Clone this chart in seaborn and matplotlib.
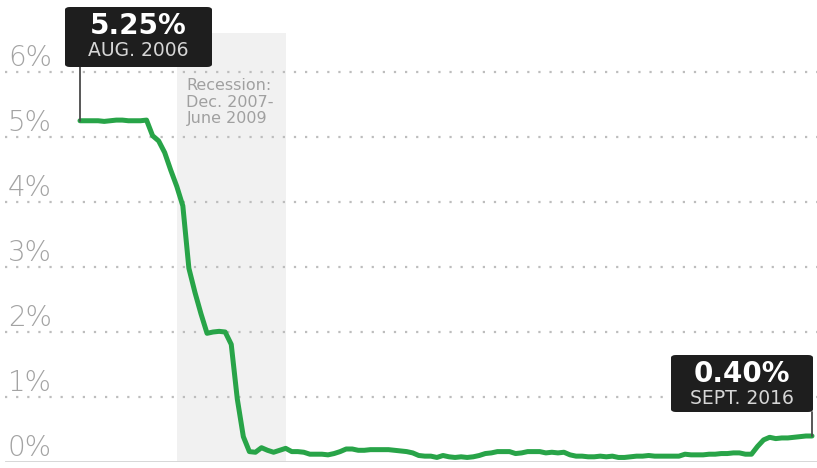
import matplotlib
matplotlib.use("Agg")
import matplotlib.pyplot as plt
import seaborn as sns
import pandas as pd
from matplotlib.patches import FancyBboxPatch

# Effective federal funds rate, monthly, Aug. 2006 - Sept. 2016 (percent)
months = pd.period_range("2006-08", "2016-09", freq="M")
rate = [
    5.25, 5.25, 5.25, 5.25, 5.24,
    5.25, 5.26, 5.26, 5.25, 5.25, 5.25, 5.26, 5.02, 4.94, 4.76, 4.49, 4.24,
    3.94, 2.98, 2.61, 2.28, 1.98, 2.00, 2.01, 2.00, 1.81, 0.97, 0.39, 0.16,
    0.15, 0.22, 0.18, 0.15, 0.18, 0.21, 0.16, 0.16, 0.15, 0.12, 0.12, 0.12,
    0.11, 0.13, 0.16, 0.20, 0.20, 0.18, 0.18, 0.19, 0.19, 0.19, 0.19, 0.18,
    0.17, 0.16, 0.14, 0.10, 0.09, 0.09, 0.07, 0.10, 0.08, 0.07, 0.08, 0.07,
    0.08, 0.10, 0.13, 0.14, 0.16, 0.16, 0.16, 0.13, 0.14, 0.16, 0.16, 0.16,
    0.14, 0.15, 0.14, 0.15, 0.11, 0.09, 0.09, 0.08, 0.08, 0.09, 0.08, 0.09,
    0.07, 0.07, 0.08, 0.09, 0.09, 0.10, 0.09, 0.09, 0.09, 0.09, 0.09, 0.12,
    0.11, 0.11, 0.11, 0.12, 0.12, 0.13, 0.13, 0.14, 0.14, 0.12, 0.12, 0.24,
    0.34, 0.38, 0.36, 0.37, 0.37, 0.38, 0.39, 0.40, 0.40,
]
y_ticks = [0, 1, 2, 3, 4, 5, 6]
y_labels = ["0%", "1%", "2%", "3%", "4%", "5%", "6%"]
recession = ("2007-12", "2009-06")
recession_text = "Recession:\nDec. 2007-\nJune 2009"
start_value, start_label = "5.25%", "AUG. 2006"
end_value, end_label = "0.40%", "SEPT. 2016"

start = months[0]
df = pd.DataFrame({"m": [(p - start).n for p in months], "rate": rate})

sns.set_theme(style="white")
plt.rcParams["font.family"] = ["DejaVu Sans"]

fig = plt.figure(figsize=(8.17, 4.68), dpi=100)
ax = fig.add_axes([5 / 817, 6 / 468, 812 / 817, 429 / 468])

rec0 = (pd.Period(recession[0], "M") - start).n
rec1 = (pd.Period(recession[1], "M") - start).n
ax.axvspan(rec0, rec1, color="#f1f1f1", zorder=0, lw=0)

for v in y_ticks[1:]:
    ax.axhline(v, color="#bdbdbd", lw=1.6, ls=(0, (1, 4)), zorder=1)
ax.axhline(0, color="#d4d4d4", lw=2, zorder=1)

sns.lineplot(data=df, x="m", y="rate", ax=ax, color="#28a448", lw=3.6,
             zorder=3, legend=False)

ax.set_xlim(-75 / 6.05, df["m"].iloc[-1] + 5 / 6.05)
ax.set_ylim(0, 6.6)
ax.set_xticks([])
ax.set_yticks([])
ax.set_xlabel("")
ax.set_ylabel("")
for s in ax.spines.values():
    s.set_visible(False)

for v, lab in zip(y_ticks, y_labels):
    ax.annotate(lab, (0, v), xycoords=("axes fraction", "data"),
                xytext=(2, 0), textcoords="offset points",
                ha="left", va="bottom", fontsize=20, color="#a3a3a3",
                fontweight="light")

ax.text(rec0 + 1.6, 5.9, recession_text, ha="left", va="top",
        fontsize=11.5, color="#a0a0a0", linespacing=1.1)


def callout(x_idx, y_val, box_px, value, label):
    # box_px: (left, top, right, bottom) in figure pixels from top-left
    l, t, r, b = box_px
    W, H = 817, 468
    box = FancyBboxPatch((l / W, 1 - b / H), (r - l) / W, (b - t) / H,
                         boxstyle="round,pad=0,rounding_size=0.006",
                         transform=fig.transFigure, facecolor="#1e1e1e",
                         edgecolor="none", zorder=6, clip_on=False)
    fig.add_artist(box)
    cx = (l + r) / 2 / W
    fig.text(cx, 1 - (t + 19) / H, value, ha="center", va="center",
             color="white", fontsize=20, fontweight="bold", zorder=7)
    fig.text(cx, 1 - (t + 44) / H, label, ha="center", va="center",
             color="#d6d6d6", fontsize=13.5, zorder=7)
    # connector from the box down to the line
    bx, by = fig.transFigure.inverted().transform(
        ax.transData.transform((x_idx, y_val)))
    fig.add_artist(plt.Line2D([bx, bx], [1 - b / H, by], color="#4a4a4a",
                              lw=1.3, transform=fig.transFigure, zorder=5))


callout(df["m"].iloc[0], rate[0], (65, 7, 212, 67), start_value, start_label)
callout(df["m"].iloc[-1], rate[-1], (671, 355, 813, 412), end_value, end_label)

fig.savefig("out.png", dpi=100, facecolor="white")
